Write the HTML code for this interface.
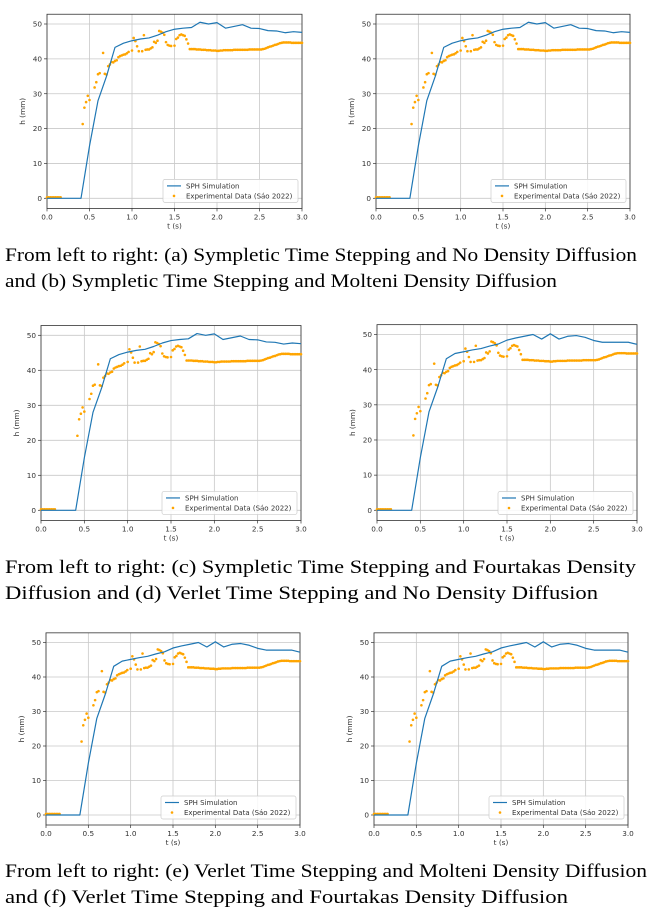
<!DOCTYPE html>
<html><head><meta charset="utf-8">
<style>
html,body{margin:0;padding:0;background:#fff;}
svg{display:block;}
.tk{font-family:"DejaVu Sans","Liberation Sans",sans-serif;font-size:7.3px;fill:#333;}
.cap{font-family:"Liberation Serif",serif;font-size:19px;fill:#000;}
.lg{font-family:"DejaVu Sans","Liberation Sans",sans-serif;font-size:7px;fill:#333;}
</style></head>
<body>
<svg id="fig" width="654" height="916" viewBox="0 0 654 916" xmlns="http://www.w3.org/2000/svg">
<text class="cap" x="5" y="261" textLength="632" lengthAdjust="spacingAndGlyphs">From left to right: (a) Sympletic Time Stepping and No Density Diffusion</text>
<text class="cap" x="5" y="287" textLength="552" lengthAdjust="spacingAndGlyphs">and (b) Sympletic Time Stepping and Molteni Density Diffusion</text>
<text class="cap" x="5" y="573" textLength="631" lengthAdjust="spacingAndGlyphs">From left to right: (c) Sympletic Time Stepping and Fourtakas Density</text>
<text class="cap" x="5" y="599" textLength="593" lengthAdjust="spacingAndGlyphs">Diffusion and (d) Verlet Time Stepping and No Density Diffusion</text>
<text class="cap" x="5" y="877" textLength="642" lengthAdjust="spacingAndGlyphs">From left to right: (e) Verlet Time Stepping and Molteni Density Diffusion</text>
<text class="cap" x="5" y="903" textLength="563" lengthAdjust="spacingAndGlyphs">and (f) Verlet Time Stepping and Fourtakas Density Diffusion</text>
</svg>
<script>
const simT = [0,0.4,0.5,0.6,0.7,0.8,0.9,1.0,1.1,1.2,1.3,1.4,1.5,1.6,1.7,1.8,1.9,2.0,2.1,2.2,2.3,2.4,2.5,2.6,2.7,2.8,2.9,3.0];
const simA = [0,0,15,28,35,43.3,44.5,45.2,45.7,46,46.8,47.8,48.5,48.8,49,50.5,50,50.4,48.8,49.3,49.8,48.8,48.7,48.1,48,47.5,47.8,47.6];
const simB = [0,0,15,28,35,43.1,44.6,45.1,45.6,46,46.7,47.3,48.4,49,49.5,50,48.7,50.2,48.7,49.5,49.7,49.2,48.3,47.8,47.8,47.8,47.8,47.2];
const expT = [0,0.02,0.04,0.06,0.08,0.1,0.12,0.14,0.16,0.42,0.44,0.46,0.48,0.5,0.56,0.58,0.6,0.62,0.66,0.68,0.7,0.72,0.74,0.76,0.78,0.8,0.82,0.84,0.86,0.88,0.9,0.92,0.94,0.96,1.0,1.02,1.04,1.06,1.08,1.12,1.14,1.16,1.18,1.2,1.22,1.24,1.26,1.28,1.3,1.32,1.34,1.36,1.38,1.4,1.42,1.44,1.46,1.5,1.52,1.54,1.56,1.58,1.6,1.62,1.64,1.66,
1.68,1.7,1.72,1.74,1.76,1.78,1.8,1.82,1.84,1.86,1.88,1.9,1.92,1.94,1.96,1.98,2.0,2.02,2.04,2.06,2.08,2.1,2.12,2.14,2.16,2.18,2.2,2.22,2.24,2.26,2.28,2.3,2.32,2.34,2.36,2.38,2.4,2.42,2.44,2.46,2.48,2.5,2.52,2.54,2.56,2.58,2.6,2.62,2.64,2.66,2.68,2.7,2.72,2.74,2.76,2.78,2.8,2.82,2.84,2.86,2.88,2.9,2.92,2.94,2.96,2.98,3.0];
const expH = [0.3,0.3,0.3,0.3,0.3,0.3,0.3,0.3,0.3,21.3,26,27.6,29.4,28.2,31.8,33.3,35.6,35.9,41.7,35.7,35.5,37.9,38.4,39.1,39.0,39.4,39.6,40.5,40.8,41.0,41.2,41.3,41.6,42.0,42.4,46,45.1,43.6,42.2,42.2,46.8,42.6,42.7,42.7,43.0,43.3,44.9,44.6,45.2,48,47.8,47.5,46.9,44.8,44.0,43.8,43.7,43.8,45.7,46.1,46.8,47.0,46.8,46.6,45.6,44.4,
42.8,42.8,42.8,42.8,42.7,42.7,42.7,42.6,42.6,42.6,42.5,42.5,42.5,42.4,42.4,42.4,42.3,42.3,42.4,42.4,42.5,42.5,42.5,42.5,42.5,42.5,42.6,42.6,42.6,42.6,42.6,42.6,42.6,42.6,42.6,42.7,42.7,42.7,42.7,42.7,42.7,42.7,42.7,42.8,42.9,43.1,43.3,43.5,43.6,43.8,44.0,44.1,44.3,44.5,44.6,44.7,44.7,44.7,44.7,44.7,44.6,44.6,44.6,44.6,44.6,44.6,44.6];
const xTicks = [0,0.5,1.0,1.5,2.0,2.5,3.0];
const xTickLabels = ["0.0","0.5","1.0","1.5","2.0","2.5","3.0"];
const yTicks = [0,10,20,30,40,50];
const yTickLabels = ["0","10","20","30","40","50"];

const NS="http://www.w3.org/2000/svg";
const fig=document.getElementById('fig');
function mk(tag,attrs,parent){const e=document.createElementNS(NS,tag);for(const k in attrs)e.setAttribute(k,attrs[k]);(parent||fig).appendChild(e);return e;}

const panels=[
 {id:'a',x0:47,x1:302,y0:198.3,y50:24,sim:simA},
 {id:'b',x0:376,x1:630,y0:198.3,y50:24,sim:simA},
 {id:'c',x0:41,x1:301,y0:510.3,y50:335.3,sim:simA},
 {id:'d',x0:377,x1:637,y0:510.3,y50:334.5,sim:simB},
 {id:'e',x0:46,x1:300,y0:815,y50:642.5,sim:simB},
 {id:'f',x0:374,x1:628,y0:815,y50:642.5,sim:simB}
];
panels.forEach(p=>{
 const X=t=>p.x0+(p.x1-p.x0)*t/3.0;
 const Y=h=>p.y0+(p.y50-p.y0)*h/50;
 const top=Y(52.8), bot=Y(-2.9);
 const g=mk('g',{});
 
 
 // grid
 xTicks.forEach((t,i)=>{
  const l=mk('line',{x1:X(t),x2:X(t),y1:top,y2:bot,stroke:'#c8c8c8','stroke-width':0.8},g);
  
  
  mk('line',{x1:X(t),x2:X(t),y1:bot,y2:bot+3,stroke:'#333','stroke-width':0.7},g);
  const tx=mk('text',{x:X(t),y:bot+11,'text-anchor':'middle',class:'tk'},g);
  
  
  tx.textContent=xTickLabels[i];
 });
 yTicks.forEach((h,i)=>{
  const l=mk('line',{x1:p.x0,x2:p.x1,y1:Y(h),y2:Y(h),stroke:'#c8c8c8','stroke-width':0.8},g);
  
  
  mk('line',{x1:p.x0-3,x2:p.x0,y1:Y(h),y2:Y(h),stroke:'#333','stroke-width':0.7},g);
  const tx=mk('text',{x:p.x0-5,y:Y(h)+2.6,'text-anchor':'end',class:'tk'},g);
  
  
  tx.textContent=yTickLabels[i];
 });
 const fr=mk('rect',{x:p.x0,y:top,width:p.x1-p.x0,height:bot-top,fill:'none',stroke:'#333','stroke-width':0.8},g);
 
 
 const xl=mk('text',{x:(p.x0+p.x1)/2,y:bot+20,'text-anchor':'middle',class:'tk'},g);
 
 
 xl.textContent='t (s)';
 const yx=p.x0-22, yy=(top+bot)/2;
 const yl=mk('text',{x:yx,y:yy,'text-anchor':'middle',class:'tk',transform:`rotate(-90 ${yx} ${yy})`},g);
 
 
 yl.textContent='h (mm)';
 // experimental points
 expT.forEach((t,i)=>{
  const c=mk('circle',{cx:X(t),cy:Y(expH[i]),r:1.3,fill:'#ffa500'},g);
  
  
 });
 // sim line
 const pts=simT.map((t,i)=>X(t).toFixed(2)+','+Y(p.sim[i]).toFixed(2)).join(' ');
 const pl=mk('polyline',{points:pts,fill:'none',stroke:'#1f77b4','stroke-width':1.2,'stroke-linejoin':'round'},g);
 
 
 // legend
 const lx=p.x1-139, ly=bot-29;
 const lg=mk('g',{},g);
 
 
 mk('rect',{x:lx,y:ly,width:135,height:23,rx:2,fill:'#fff','fill-opacity':0.85,stroke:'#ccc','stroke-width':0.7},lg);
 mk('line',{x1:lx+4,x2:lx+18,y1:ly+6.5,y2:ly+6.5,stroke:'#1f77b4','stroke-width':1.2},lg);
 const t1=mk('text',{x:lx+23,y:ly+9,class:'lg'},lg);
 
 
 t1.textContent='SPH Simulation';
 mk('circle',{cx:lx+11,cy:ly+16.5,r:1.3,fill:'#ffa500'},lg);
 const t2=mk('text',{x:lx+23,y:ly+19,class:'lg'},lg);
 
 
 t2.textContent='Experimental Data (Sáo 2022)';
});
</script>
</body></html>
